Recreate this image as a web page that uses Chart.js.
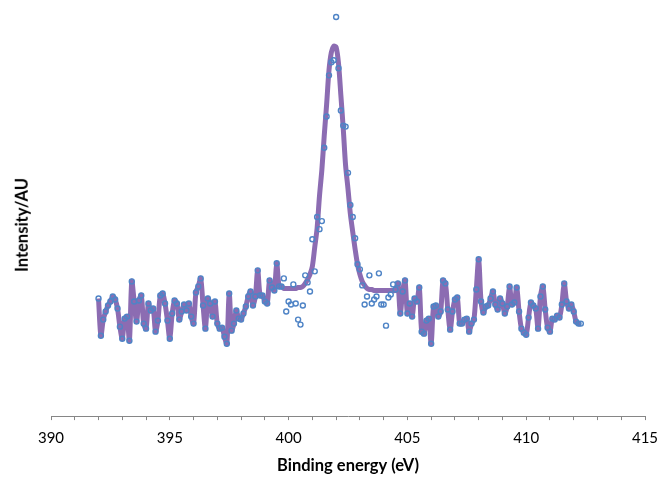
<!DOCTYPE html>
<html>
<head>
<meta charset="utf-8">
<script src="https://cdn.jsdelivr.net/npm/chart.js@4"></script>
<style>
  html, body { margin: 0; padding: 0; background: #ffffff; overflow: hidden; }
  #wrap { position: relative; width: 664px; height: 479px; }
  #c { display: block; }
  #ytitle {
    position: absolute; left: 22px; top: 225px;
    transform: translate(-50%, -50%) rotate(-90deg);
    font-family: 'Lato', sans-serif; font-weight: bold; font-size: 16.5px;
    color: #000; white-space: nowrap; line-height: 1;
  }
</style>
</head>
<body>
<div id="wrap"><canvas id="c" width="664" height="479"></canvas><div id="ytitle">Intensity/AU</div></div>
<script>
// Binding energies (eV)
const leftEnergy = [392.0,392.1,392.2,392.3,392.4,392.5,392.6,392.7,392.8,392.9,393.0,393.1,393.2,393.3,393.4,393.5,393.6,393.7,393.8,393.9,394.0,394.1,394.2,394.3,394.4,394.5,394.6,394.7,394.8,394.9,395.0,395.1,395.2,395.3,395.4,395.5,395.6,395.7,395.8,395.9,396.0,396.1,396.2,396.3,396.4,396.5,396.6,396.7,396.8,396.9,397.0,397.1,397.2,397.3,397.4,397.5,397.6,397.7,397.8,397.9,398.0,398.1,398.2,398.3,398.4,398.5,398.6,398.7,398.8,398.9,399.0,399.1,399.2,399.3,399.4,399.5,399.6,399.7];
const peakEnergy = [399.8,399.9,400.0,400.1,400.2,400.3,400.4,400.5,400.6,400.7,400.8,400.9,401.0,401.1,401.2,401.3,401.4,401.5,401.6,401.7,401.8,401.9,402.0,402.1,402.2,402.3,402.4,402.5,402.6,402.7,402.8,402.9,403.0,403.1,403.2,403.3,403.4,403.5,403.6,403.7,403.8,403.9,404.0,404.1,404.2,404.3,404.4,404.5];
const rightEnergy = [404.6,404.7,404.8,404.9,405.0,405.1,405.2,405.3,405.4,405.5,405.6,405.7,405.8,405.9,406.0,406.1,406.2,406.3,406.4,406.5,406.6,406.7,406.8,406.9,407.0,407.1,407.2,407.3,407.4,407.5,407.6,407.7,407.8,407.9,408.0,408.1,408.2,408.3,408.4,408.5,408.6,408.7,408.8,408.9,409.0,409.1,409.2,409.3,409.4,409.5,409.6,409.7,409.8,409.9,410.0,410.1,410.2,410.3,410.4,410.5,410.6,410.7,410.8,410.9,411.0,411.1,411.2,411.3,411.4,411.5,411.6,411.7,411.8,411.9,412.0,412.1,412.2,412.3];

// Measured intensity (arbitrary units)
const leftData = [117,80,96,104,110,114,119,116,107,89,77,97,99,75,134,114,94,115,120,92,87,112,105,107,84,95,120,122,112,95,77,102,115,112,96,104,111,105,112,99,92,123,129,137,110,87,117,112,99,114,92,87,88,79,72,122,85,92,105,97,96,102,109,119,124,110,119,145,120,120,114,112,135,128,125,152,129,129];
const peakData = [137,104,114,111,131,112,96,91,110,140,133,124,176,144,198,186,194,267,298,339,352,354,397,346,304,289,288,242,210,198,177,151,146,130,111,119,140,112,116,119,142,111,111,90,118,121,131,126];
const rightData = [132,102,124,135,102,112,99,117,114,128,84,82,95,97,72,109,110,99,104,135,132,106,86,104,116,118,92,92,96,97,84,92,96,126,156,114,103,109,110,117,124,111,106,117,112,102,109,129,111,113,128,104,87,83,81,98,113,110,107,87,119,129,106,88,84,97,96,100,98,111,132,114,107,111,104,94,92,92];

// Fitted envelope over the peak window (arbitrary units)
const peakFit = [127,127,127,127,127,127,128,128,129,132,136,141,149,168,187,219,245,279,310,344,362,368,367,351,319,286,249,226,201,183,166,151,141,134,130,127,126,126,125,125,125,125,125,125,125,125,125,125];

// Axis ticks
const xMin = 390, xMax = 415, xMajorStep = 5;
const yMin = 0, yMax = 402;

const toPts = (xs, ys) => xs.map((x, i) => ({ x: x, y: ys[i] }));
const allEnergy = leftEnergy.concat(peakEnergy, rightEnergy);
const measured = toPts(allEnergy, leftData.concat(peakData, rightData));
const envelope = toPts(allEnergy, leftData.concat(peakFit, rightData));

new Chart(document.getElementById('c'), {
  type: 'scatter',
  data: {
    datasets: [
      {
        label: 'Data',
        data: measured,
        showLine: false,
        pointRadius: 2.5,
        pointBorderWidth: 1.4,
        pointBorderColor: '#4F84C6',
        pointBackgroundColor: 'rgba(0,0,0,0)',
        clip: false,
        order: 0
      },
      {
        label: 'Fit',
        data: envelope,
        showLine: true,
        borderColor: '#8C6CB2',
        borderWidth: 5,
        tension: 0.3,
        pointRadius: 0,
        clip: false,
        order: 1
      }
    ]
  },
  options: {
    responsive: false,
    animation: false,
    events: [],
    layout: { padding: { left: 51, right: 19, top: 12, bottom: 0 } },
    plugins: { legend: { display: false }, tooltip: { enabled: false } },
    scales: {
      x: {
        type: 'linear',
        min: xMin, max: xMax,
        afterFit: (s) => { s.paddingLeft = 0; s.paddingRight = 0; },
        ticks: {
          stepSize: 1,
          autoSkip: false,
          maxRotation: 0,
          padding: 9,
          color: '#000000',
          font: { family: 'Lato', size: 15 },
          callback: (v) => (v % xMajorStep === 0 ? String(v) : '')
        },
        grid: { display: true, drawOnChartArea: false, drawTicks: true, tickLength: 4, color: '#868686' },
        border: { display: true, color: '#868686', width: 1 },
        title: {
          display: true,
          text: 'Binding energy (eV)',
          color: '#000000',
          font: { family: 'Lato', size: 16.5, weight: 'bold' },
          padding: { top: 0, bottom: 3.1 }
        }
      },
      y: {
        type: 'linear',
        display: false,
        min: yMin, max: yMax
      }
    }
  }
});
</script>
</body>
</html>
